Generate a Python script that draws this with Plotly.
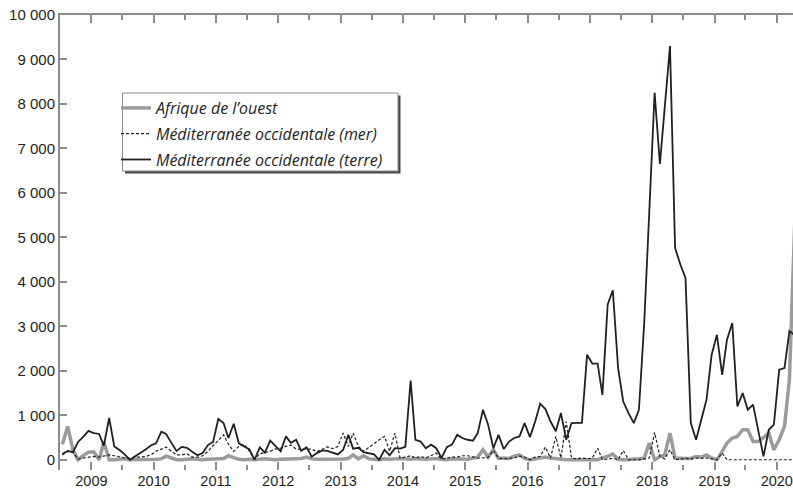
import pandas as pd
import plotly.graph_objects as go

# monthly counts, Jul 2008 -> Apr 2020 (one value per month)
afrique_ouest = [
    350, 750, 220, 0, 100, 170,                                   # 2008 (Jul-Dec)
    180, 0, 400, 0, 0, 10, 20, 0, 0, 10, 10, 0,                   # 2009
    10, 20, 80, 40, 0, 0, 10, 20, 10, 0, 10, 20,                  # 2010
    20, 30, 90, 40, 10, 0, 10, 0, 10, 20, 10, 0,                  # 2011
    10, 20, 10, 20, 30, 60, 20, 10, 10, 20, 20, 10,               # 2012
    20, 30, 110, 20, 90, 20, 10, 0, 20, 10, 20, 30,               # 2013
    20, 10, 30, 20, 10, 20, 30, 10, 0, 20, 30, 20,                # 2014
    10, 30, 60, 225, 60, 225, 30, 40, 30, 80, 110, 30,            # 2015
    0, 20, 30, 60, 40, 20, 10, 0, 0, 0, 0, 0,                     # 2016
    0, 0, 50, 75, 130, 10, 0, 0, 20, 20, 40, 375,                 # 2017
    0, 75, 100, 600, 40, 30, 30, 30, 75, 60, 110, 40,             # 2018
    0, 190, 375, 490, 525, 675, 675, 410, 410, 500, 600, 225,     # 2019
    450, 750, 1800, 5300,                                         # 2020 (Jan-Apr)
]
med_mer = [
    110, 190, 165, 15, 40, 60,
    75, 60, 90, 110, 90, 60, 40, 30, 60, 60, 75, 110,
    190, 240, 285, 190, 110, 110, 135, 60, 60, 90, 190, 315,
    450, 560, 350, 190, 300, 350, 200, 15, 135, 165, 190, 240,
    260, 300, 330, 240, 240, 240, 240, 180, 240, 290, 250, 300,
    600, 300, 600, 300, 190, 280, 375, 450, 525, 190, 600, 40,
    60, 90, 40, 75, 40, 100, 150, 15, 40, 60, 60, 90,
    90, 60, 40, 40, 60, 210, 40, 20, 30, 40, 80, 60,
    0, 60, 75, 285, 40, 525, 40, 860, 40, 20, 40, 20,
    40, 260, 0, 20, 30, 0, 210, 0, 0, 0, 20, 40,
    615, 75, 20, 225, 0, 20, 30, 20, 40, 30, 40, 20,
    0, 150, 0, 0, 0, 0, 0, 0, 0, 0, 0, 0,
    0, 0, 0, 0,
]
med_terre = [
    130, 200, 170, 400, 520, 650,
    600, 580, 320, 940, 300, 220, 120, 0, 80, 150, 230, 320,
    370, 630, 580, 380, 200, 290, 270, 180, 100, 150, 330, 400,
    920, 820, 490, 810, 370, 300, 240, 0, 280, 160, 430, 310,
    190, 525, 380, 450, 200, 280, 70, 150, 210, 200, 160, 120,
    220, 560, 250, 270, 170, 140, 120, 0, 225, 100, 260, 250,
    290, 1780, 450, 410, 260, 340, 260, 40, 285, 340, 560, 490,
    450, 430, 600, 1125, 790, 260, 560, 240, 410, 490, 525, 825,
    510, 860, 1260, 1140, 860, 640, 1050, 450, 825, 830, 830, 2360,
    2160, 2160, 1460, 3490, 3810, 2060, 1310, 1050, 825, 1125, 3075, 5600,
    8250, 6650, 7950, 9300, 4760, 4390, 4090, 825, 450, 900, 1350, 2360,
    2810, 1910, 2700, 3075, 1200, 1500, 1125, 1240, 675, 75, 675, 790,
    2025, 2060, 2890, 2800,
]

months = pd.date_range('2008-07-01', periods=len(med_terre), freq='MS') + pd.Timedelta(days=14)

years = list(range(2009, 2021))
year_ticks = [f'{y}-01-01' for y in years]
year_labels = [str(y) for y in years]
y_ticks = list(range(0, 10001, 1000))
y_labels = [f'{v:,}'.replace(',', ' ') for v in y_ticks]

x_range = ['2008-07-01', '2020-04-05']
axis_grey = '#8c8c8c'
ink = '#231f20'

# plot area in pixels: x 60..793, y 15..470
def px(x):
    return (x - 60) / 733

def py(y):
    return (470 - y) / 455

fig = go.Figure()
fig.add_trace(go.Scatter(x=months, y=afrique_ouest, mode='lines', name='Afrique de l’ouest',
                         line=dict(color='#9b9b9b', width=3.5), legendgroup='a'))
fig.add_trace(go.Scatter(x=months, y=med_mer, mode='lines', name='Méditerranée occidentale (mer)',
                         line=dict(color=ink, width=1.2, dash='3px,2px'), legendgroup='b'))
fig.add_trace(go.Scatter(x=months, y=med_terre, mode='lines', name='Méditerranée occidentale (terre)',
                         line=dict(color=ink, width=1.8), legendgroup='c'))
# empty trace so the top axis gets drawn
fig.add_trace(go.Scatter(x=[months[0]], y=[None], xaxis='x2', showlegend=False, hoverinfo='skip'))

tick_style = dict(ticks='inside', tickcolor=axis_grey, tickwidth=1.5, automargin=False)
minor_style = dict(ticks='inside', ticklen=5, tickcolor=axis_grey, tickwidth=1.5,
                   dtick='M6', tick0='2008-07-01', showgrid=False)

fig.update_layout(
    width=793, height=490,
    margin=dict(l=60, r=0, t=15, b=20),
    paper_bgcolor='white', plot_bgcolor='white',
    font=dict(family='Liberation Sans, Arial, sans-serif', color=ink),
    xaxis=dict(type='date', range=x_range, tickmode='array', tickvals=year_ticks, ticktext=year_labels,
               ticklen=8, showline=False, showgrid=False, zeroline=False, minor=minor_style,
               tickfont=dict(size=14.5), **tick_style),
    xaxis2=dict(type='date', range=x_range, overlaying='x', side='top', anchor='y',
                tickmode='array', tickvals=year_ticks, ticklen=8, showticklabels=False,
                showline=True, linecolor=axis_grey, linewidth=2, showgrid=False, zeroline=False,
                minor=minor_style, **tick_style),
    yaxis=dict(range=[-230, 10000], tickmode='array', tickvals=y_ticks, ticktext=y_labels,
               ticklen=7, showline=True, linecolor=axis_grey, linewidth=2, showgrid=False,
               zeroline=False, tickfont=dict(size=15), **tick_style),
    legend=dict(x=px(116), y=py(91), xanchor='left', yanchor='top',
                bgcolor='rgba(0,0,0,0)', borderwidth=0, tracegroupgap=2,
                font=dict(family='Open Sans, sans-serif', size=16, style='italic', color=ink)),
    shapes=[
        dict(type='rect', xref='paper', yref='paper', layer='above',
             x0=px(125), x1=px(400.5), y0=py(173.5), y1=py(95.5),
             fillcolor='#4a4a4a', line=dict(width=0)),
        dict(type='rect', xref='paper', yref='paper', layer='above',
             x0=px(122.5), x1=px(398), y0=py(171), y1=py(93),
             fillcolor='white', line=dict(color='#8c8c8c', width=1)),
    ],
    showlegend=True,
)

# page body has a default 8px margin; drop it so the figure sits at the window corner
fig.write_html('out.html', config={'displayModeBar': False},
               post_script="document.body.style.margin='0px';")
